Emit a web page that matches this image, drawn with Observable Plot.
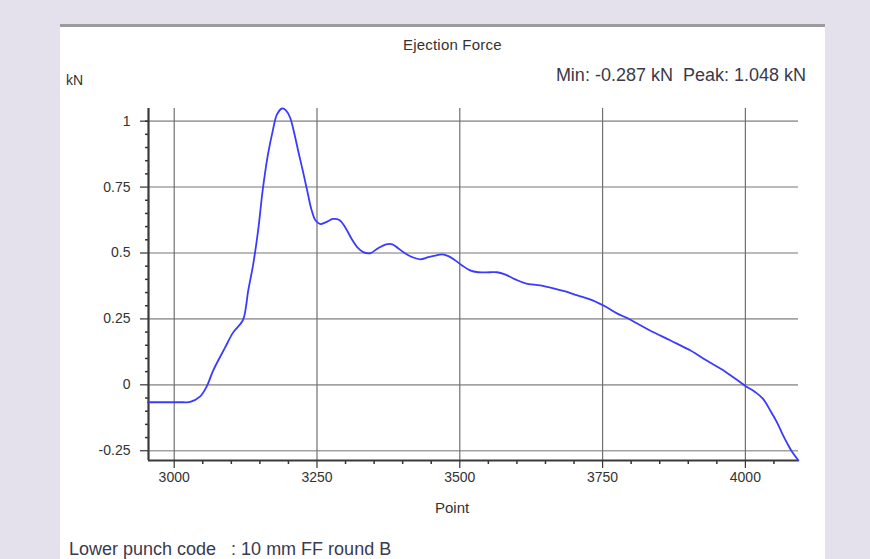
<!DOCTYPE html>
<html>
<head>
<meta charset="utf-8">
<script src="https://cdn.jsdelivr.net/npm/d3@7"></script>
<script src="https://cdn.jsdelivr.net/npm/@observablehq/plot@0.6"></script>
<style>
  html, body { margin: 0; padding: 0; }
  body { width: 870px; height: 559px; overflow: hidden; background: #e4e0ec; font-family: "Liberation Sans", Arial, sans-serif; }
  #page { position: relative; width: 870px; height: 559px; background: #e4e0ec; }
  #panel { position: absolute; left: 60px; top: 24px; width: 765px; height: 535px; background: #fff; border-top: 3px solid #9c9c9c; box-sizing: border-box; }
  .t { position: absolute; white-space: pre; line-height: 1; }
  #chart { position: absolute; left: 60px; top: 27px; }
</style>
</head>
<body>
<div id="page">
  <div id="panel"></div>
  <div id="chart"></div>
  <div class="t" id="title" style="left:403px; top:37px; font-size:15px; color:#333; letter-spacing:0.2px;">Ejection Force</div>
  <div class="t" id="stats" style="right:64px; top:66px; font-size:18px; color:#3a3a4a;"></div>
  <div class="t" id="unit" style="left:66px; top:73px; font-size:14px; color:#333;">kN</div>
  <div class="t" id="xlab" style="left:435px; top:500px; font-size:15px; color:#333;">Point</div>
  <div class="t" id="note" style="left:69px; top:540px; font-size:18px; color:#3a3a50;"></div>
</div>
<script>
// ---- data ----
const points = [2954, 2990, 3015, 3028, 3045, 3057, 3068, 3089, 3103, 3120, 3126, 3129, 3138, 3147, 3155, 3164, 3173, 3180, 3189, 3196, 3203, 3210, 3217, 3226, 3233, 3240, 3247, 3255, 3266, 3278, 3289, 3299, 3311, 3322, 3331, 3343, 3357, 3371, 3382, 3392, 3404, 3417, 3431, 3445, 3459, 3469, 3480, 3492, 3504, 3518, 3532, 3553, 3565, 3579, 3597, 3615, 3641, 3664, 3685, 3706, 3728, 3741, 3755, 3776, 3798, 3833, 3869, 3904, 3933, 3965, 4000, 4017, 4031, 4044, 4056, 4065, 4074, 4082, 4093];
const force = [-0.066, -0.066, -0.066, -0.065, -0.045, -0.006, 0.053, 0.141, 0.198, 0.244, 0.301, 0.350, 0.453, 0.587, 0.739, 0.872, 0.968, 1.026, 1.048, 1.040, 1.013, 0.956, 0.888, 0.804, 0.735, 0.667, 0.625, 0.610, 0.617, 0.629, 0.625, 0.599, 0.552, 0.518, 0.503, 0.499, 0.518, 0.533, 0.533, 0.518, 0.499, 0.484, 0.476, 0.484, 0.491, 0.495, 0.488, 0.472, 0.453, 0.434, 0.427, 0.427, 0.427, 0.419, 0.400, 0.385, 0.377, 0.366, 0.354, 0.339, 0.324, 0.312, 0.297, 0.270, 0.248, 0.206, 0.168, 0.130, 0.091, 0.050, -0.004, -0.027, -0.053, -0.099, -0.145, -0.187, -0.225, -0.255, -0.287];
const xTicks = [3000, 3250, 3500, 3750, 4000];
const xMinorTicks = [3050, 3100, 3150, 3200, 3300, 3350, 3400, 3450, 3550, 3600, 3650, 3700, 3800, 3850, 3900, 3950, 4050];
const yTicks = [-0.25, 0, 0.25, 0.5, 0.75, 1];
const yMinorTicks = [-0.2, -0.15, -0.1, -0.05, 0.05, 0.1, 0.15, 0.2, 0.3, 0.35, 0.4, 0.45, 0.55, 0.6, 0.65, 0.7, 0.8, 0.85, 0.9, 0.95, 1.0];
const xDomain = [2955, 4093];
const yDomain = [-0.287, 1.048];
const minValue = -0.287;
const peakValue = 1.048;
const noteText = "Lower punch code   : 10 mm FF round B";

const data = points.map((p, i) => ({point: p, kN: force[i]}));

document.getElementById("stats").textContent = `Min: ${minValue.toFixed(3)} kN  Peak: ${peakValue.toFixed(3)} kN`;
document.getElementById("note").textContent = noteText;

const fmt = d => String(d);

const chart = Plot.plot({
  width: 765,
  height: 532,
  marginLeft: 88,
  marginRight: 27,
  marginTop: 81,
  marginBottom: 99,
  style: {background: "transparent", fontFamily: "'Liberation Sans', Arial, sans-serif", fontSize: "14px", color: "#333", overflow: "visible"},
  x: {domain: xDomain, label: null},
  y: {domain: yDomain, label: null},
  marks: [
    Plot.gridY(yTicks, {stroke: "#a3a3a3", strokeOpacity: 1, strokeWidth: 1.6}),
    Plot.gridX(xTicks, {stroke: "#707070", strokeOpacity: 1, strokeWidth: 1.2}),
    Plot.axisY(yMinorTicks, {tickSize: 3, text: null, stroke: "#333", strokeWidth: 1.5, label: null}),
    Plot.axisY(yTicks, {tickSize: 8, tickPadding: 10, tickFormat: fmt, stroke: "#333", strokeWidth: 1.2, fill: "#333", fontSize: 14, label: null}),
    Plot.axisX(xMinorTicks, {tickSize: 4, text: null, stroke: "#333", strokeWidth: 1.5, label: null}),
    Plot.axisX(xTicks, {tickSize: 8, tickPadding: 4, tickFormat: fmt, stroke: "#333", strokeWidth: 1.2, fill: "#333", fontSize: 14, label: null}),
    Plot.ruleX([xDomain[0]], {stroke: "#3a3a3a", strokeWidth: 2.2}),
    Plot.ruleY([yDomain[0]], {stroke: "#3a3a3a", strokeWidth: 2.2}),
    Plot.line(data, {x: "point", y: "kN", stroke: "#3b3bff", strokeWidth: 1.8, curve: "catmull-rom"})
  ]
});
document.getElementById("chart").appendChild(chart);
</script>
</body>
</html>
